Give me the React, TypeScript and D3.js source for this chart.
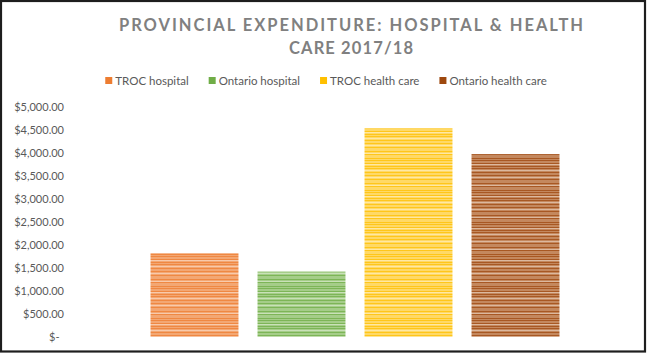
import React, { useRef, useEffect } from 'react';
import * as d3 from 'd3';

// chart data
const categories = ["2017/18"];
const seriesNames = ["TROC hospital", "Ontario hospital", "TROC health care", "Ontario health care"];
const seriesValues = [1815, 1415, 4530, 3970];
const seriesColors = ["#ED7D31", "#70AD47", "#FFC000", "#9E480E"];
const seriesTints = ["#F3A773", "#A5CD89", "#FFD966", "#C4885E"];
const yTicks = [0, 500, 1000, 1500, 2000, 2500, 3000, 3500, 4000, 4500, 5000];
const titleLines = ["PROVINCIAL EXPENDITURE: HOSPITAL & HEALTH", "CARE 2017/18"];
const titleWidths = [464, 124];

// texture stripes inside the bars (purely decorative)
const darkStripes = [0, 3, 6, 8, 12, 15, 19, 23, 26, 30];
const lightStripes = [4, 10, 17, 25];

const App = () => {

    const ref = useRef(null);

    useEffect(() => {

        const width = 649, height = 354;
        const margin = {top: 106.7, right: 11, bottom: 17.3, left: 72};

        const svg = d3.select(ref.current);
        svg.selectAll("*").remove();

        svg.append("rect")
            .attr("x", 0).attr("y", 0)
            .attr("width", width).attr("height", height)
            .attr("fill", "white");

        // outline of the chart
        svg.append("rect")
            .attr("x", 1).attr("y", 1)
            .attr("width", 644).attr("height", 350.5)
            .attr("fill", "none")
            .attr("stroke", "#1e1e1e")
            .attr("stroke-width", 2.2);

        const defs = svg.append("defs");
        seriesColors.forEach((c, i) => {
            const p = defs.append("pattern")
                .attr("id", "tex" + i)
                .attr("patternUnits", "userSpaceOnUse")
                .attr("width", 4)
                .attr("height", 32);
            p.append("rect").attr("width", 4).attr("height", 32).attr("fill", seriesTints[i]);
            darkStripes.forEach((s) => {
                p.append("rect").attr("y", s).attr("width", 4).attr("height", 1)
                    .attr("fill", c).attr("opacity", 0.75);
            });
            lightStripes.forEach((s) => {
                p.append("rect").attr("y", s).attr("width", 4).attr("height", 1)
                    .attr("fill", "white").attr("opacity", 0.4);
            });
        });

        const y = d3.scaleLinear()
            .domain([0, 5000])
            .range([height - margin.bottom, margin.top]);

        const x0 = d3.scaleBand()
            .domain(categories)
            .range([margin.left, width - margin.right])
            .paddingInner(0)
            .paddingOuter(0.192);

        const x1 = d3.scaleBand()
            .domain(seriesNames)
            .range([0, x0.bandwidth()])
            .paddingInner(0.178)
            .paddingOuter(0);

        const fmt = d3.format(",.2f");

        // y axis labels
        svg.append("g")
            .selectAll("text")
            .data(yTicks)
            .enter()
            .append("text")
            .attr("x", (d) => d === 0 ? 59.5 : 64)
            .attr("y", (d) => y(d))
            .attr("dy", "0.36em")
            .attr("text-anchor", "end")
            .attr("font-family", "Lato, 'Open Sans', sans-serif")
            .attr("font-size", 11)
            .attr("fill", "#595959")
            .text((d) => d === 0 ? "$-" : "$" + fmt(d));

        // bars
        const groups = svg.append("g")
            .selectAll("g")
            .data(categories)
            .enter()
            .append("g")
            .attr("transform", (d) => "translate(" + x0(d) + ",0)");

        groups.selectAll("rect")
            .data(seriesNames.map((name, i) => ({name: name, value: seriesValues[i], i: i})))
            .enter()
            .append("rect")
            .attr("x", (d) => x1(d.name))
            .attr("y", (d) => y(d.value))
            .attr("width", x1.bandwidth())
            .attr("height", (d) => y(0) - y(d.value))
            .attr("fill", (d) => "url(#tex" + d.i + ")");

        // title
        svg.append("g")
            .selectAll("text")
            .data(titleLines)
            .enter()
            .append("text")
            .attr("x", 351)
            .attr("y", (d, i) => 30.5 + i * 23.3)
            .attr("text-anchor", "middle")
            .attr("font-family", "Lato, 'Open Sans', sans-serif")
            .attr("font-weight", "bold")
            .attr("font-size", 16.5)
            .attr("textLength", (d, i) => titleWidths[i])
            .attr("lengthAdjust", "spacing")
            .attr("fill", "#808080")
            .text((d) => d);

        // legend, centered on the chart
        const legend = svg.append("g");
        const items = seriesNames.map((name, i) => {
            const g = legend.append("g");
            g.append("rect")
                .attr("y", 77)
                .attr("width", 7).attr("height", 7)
                .attr("fill", seriesColors[i]);
            const t = g.append("text")
                .attr("x", 10)
                .attr("y", 85)
                .attr("font-family", "Lato, 'Open Sans', sans-serif")
                .attr("font-size", 11.5)
                .attr("fill", "#595959")
                .text(name);
            const w = t.node().getComputedTextLength();
            return {g: g, w: 10 + w};
        });
        const gap = 20;
        const total = d3.sum(items, (d) => d.w) + gap * (items.length - 1);
        let cx = 326 - total / 2;
        items.forEach((it) => {
            it.g.attr("transform", "translate(" + cx + ",0)");
            cx += it.w + gap;
        });

    }, []);

    return (
        <svg ref={ref} width={649} height={354}
             style={{position: "absolute", left: 0, top: 0, display: "block"}} />
    );
}

export default App
